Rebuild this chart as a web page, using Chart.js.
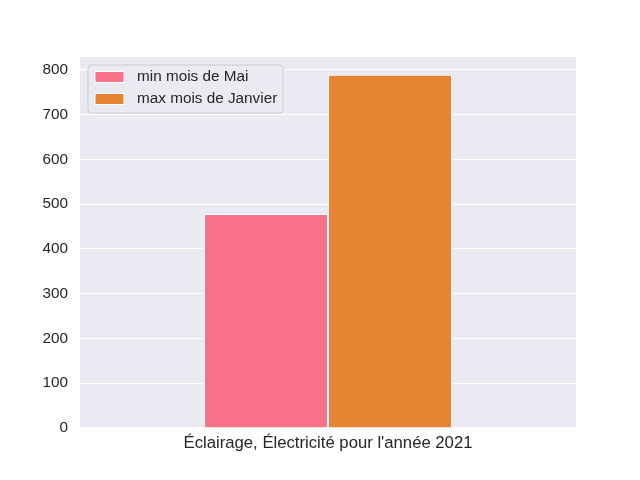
<!DOCTYPE html>
<html>
<head>
<meta charset="utf-8">
<script src="https://cdn.jsdelivr.net/npm/chart.js@4/dist/chart.umd.min.js"></script>
<style>
  html, body { margin: 0; padding: 0; background: #fff; }
  #wrap { width: 640px; height: 480px; }
</style>
</head>
<body>
<div id="wrap"><canvas id="chart" width="640" height="480"></canvas></div>
<script>
// Chart data
const categories = ["Éclairage, Électricité pour l'année 2021"];
const seriesLabels = ['min mois de Mai', 'max mois de Janvier'];
const minValues = [478];
const maxValues = [789];
const yTicks = [0, 100, 200, 300, 400, 500, 600, 700, 800];

const colors = ['#f77189', '#e68432'];
const FONT = "'Liberation Sans', Arial, sans-serif";

/**
 * Legend drawn inside the plot area, upper left, like matplotlib
 */
const innerLegend = {
  id: 'innerLegend',
  afterDatasetsDraw(chart) {
    const ctx = chart.ctx;
    const area = chart.chartArea;
    const x = area.left + 8;
    const y = area.top + 8;
    const w = 195;
    const h = 48;

    ctx.save();
    ctx.beginPath();
    ctx.roundRect(x, y, w, h, 3);
    ctx.fillStyle = 'rgba(234,234,242,0.8)';
    ctx.fill();
    ctx.strokeStyle = '#cccccc';
    ctx.lineWidth = 1;
    ctx.stroke();

    ctx.font = '15.3px ' + FONT;
    ctx.textBaseline = 'middle';
    chart.data.datasets.forEach((ds, i) => {
      const rowY = y + 12 + i * 22;
      ctx.fillStyle = ds.backgroundColor;
      ctx.fillRect(x + 7, rowY - 5.5, 29, 11);
      ctx.strokeStyle = '#ffffff';
      ctx.strokeRect(x + 7, rowY - 5.5, 29, 11);
      ctx.fillStyle = '#262626';
      ctx.fillText(ds.label, x + 49, rowY);
    });
    ctx.restore();
  }
};

/**
 * Grey plot background
 */
const plotBackground = {
  id: 'plotBackground',
  beforeDraw(chart) {
    const a = chart.chartArea;
    chart.ctx.save();
    chart.ctx.fillStyle = '#eaeaf2';
    chart.ctx.fillRect(a.left, a.top, a.right - a.left, a.bottom - a.top);
    chart.ctx.restore();
  }
};

new Chart(document.getElementById('chart'), {
  type: 'bar',
  data: {
    labels: categories,
    datasets: [
      {
        label: seriesLabels[0],
        data: minValues,
        backgroundColor: colors[0],
        borderColor: '#ffffff',
        borderWidth: 1
      },
      {
        label: seriesLabels[1],
        data: maxValues,
        backgroundColor: colors[1],
        borderColor: '#ffffff',
        borderWidth: 1
      }
    ]
  },
  options: {
    responsive: false,
    animation: false,
    layout: {
      padding: { top: 57, right: 64, bottom: 22, left: 0 }
    },
    datasets: {
      bar: { categoryPercentage: 0.5, barPercentage: 1.0 }
    },
    scales: {
      x: {
        grid: { display: false, drawTicks: false },
        border: { display: false },
        ticks: {
          color: '#262626',
          font: { family: FONT, size: 16.7 },
          padding: 5
        }
      },
      y: {
        min: 0,
        max: 828.5,
        afterFit(scale) { scale.width = 80; },
        afterBuildTicks(scale) {
          scale.ticks = yTicks.map(v => ({ value: v }));
        },
        grid: { color: '#ffffff', lineWidth: 1, drawTicks: false },
        border: { display: false },
        ticks: {
          color: '#262626',
          font: { family: FONT, size: 15.3 },
          padding: 12
        }
      }
    },
    plugins: {
      legend: { display: false },
      tooltip: { enabled: false }
    }
  },
  plugins: [plotBackground, innerLegend]
});
</script>
</body>
</html>
